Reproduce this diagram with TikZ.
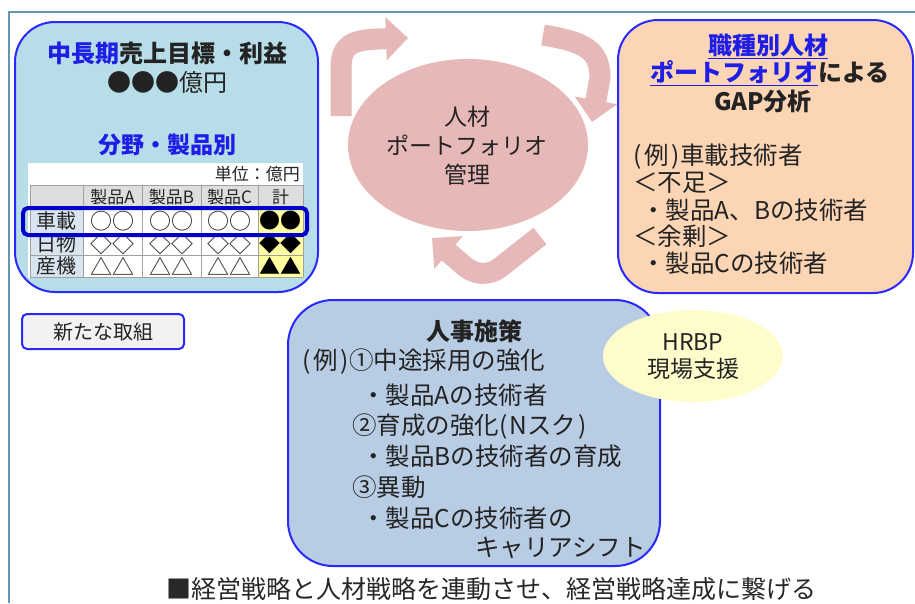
\documentclass[tikz,border=0pt]{standalone}
\usepackage{fontspec}
\setmainfont{Noto Sans CJK JP}
\usetikzlibrary{arrows.meta,shapes.geometric}
\definecolor{frameC}{RGB}{100,150,180}
\definecolor{edgeB}{RGB}{40,40,255}
\definecolor{lbFill}{RGB}{183,222,232}
\definecolor{peachF}{RGB}{252,213,181}
\definecolor{stFill}{RGB}{184,204,228}
\definecolor{pinkC}{RGB}{230,184,183}
\definecolor{yelE}{RGB}{255,252,204}
\definecolor{hdrG}{RGB}{222,222,222}
\definecolor{rowL}{RGB}{216,228,240}
\definecolor{yelC}{RGB}{255,255,160}
\definecolor{txtC}{RGB}{35,35,35}
\definecolor{titleB}{RGB}{30,30,230}
\definecolor{hiB}{RGB}{0,0,200}
\definecolor{gridG}{RGB}{160,160,160}
\definecolor{btnF}{RGB}{242,242,242}
\newcommand{\fsz}[1]{\fontsize{#1}{#1}\selectfont}
\newcommand{\rei}{(\hspace{3pt}例\hspace{3pt})}
\tikzset{
  bigbox/.style={draw=edgeB, line width=2pt, rounded corners=40pt},
  txt/.style={inner sep=0pt, text=txtC},
  lt/.style={txt, anchor=west, font=\fsz{24.5}},
  cell/.style={inner sep=0pt, text=txtC},
  cyc/.style={draw=pinkC, line width=21pt, -{Triangle[length=22pt,width=42pt]}},
}
\begin{document}
\begin{tikzpicture}[x=1pt,y=-1pt]
\useasboundingbox (0,0) rectangle (915,603);
\fill[white] (0,0) rectangle (915,603);
% frame
\draw[frameC, line width=2pt] (9,603) -- (9,12) -- (915,12);

% left box
\node[bigbox, fill=lbFill, minimum width=303pt, minimum height=270pt] (lbox) at (166.5,157) {};
\node[txt, font=\bfseries\fsz{24}] (lt1) at (167,53) {\textcolor{titleB}{中長期}売上目標・利益};
\node[txt, font=\fsz{24}] (lt2) at (167,82) {●●●億円};
\node[txt, font=\bfseries\fsz{23}, text=titleB] (lt3) at (167,145) {分野・製品別};
% table
\fill[white] (28,163) rectangle (303,278);
\node[txt, anchor=east, font=\fsz{17}] (unit) at (300,174) {単位：億円};
\fill[hdrG] (30,185) rectangle (303,208);
\fill[rowL] (30,208) rectangle (83,277);
\fill[yelC] (258,208) rectangle (303,277);
\foreach \x in {30,83,142,201,258,303} \draw[gridG, line width=0.8pt] (\x,185) -- (\x,277);
\foreach \y in {185,208,233,255,277} \draw[gridG, line width=0.8pt] (30,\y) -- (303,\y);
\node[cell, font=\fsz{17}] (hA) at (112.5,197) {製品A};
\node[cell, font=\fsz{17}] (hB) at (171.5,197) {製品B};
\node[cell, font=\fsz{17}] (hC) at (229.5,197) {製品C};
\node[cell, font=\fsz{17}] (hT) at (280.5,197) {計};
\node[cell, font=\fsz{20}] (r1) at (56.5,221) {車載};
\node[cell, font=\fsz{20}] (r2) at (56.5,244) {日物};
\node[cell, font=\fsz{20}] (r3) at (56.5,266) {産機};
\foreach \cx/\nm in {112.5/A,171.5/B,229.5/C} {
  \node[cell, font=\fsz{22}] (o\nm) at (\cx,221) {○○};
  \node[cell, font=\fsz{22}] (d\nm) at (\cx,244) {◇◇};
  \node[cell, font=\fsz{22}] (t\nm) at (\cx,266) {△△};
}
\node[cell, font=\fsz{21}, text=black] (oT) at (280.5,221) {●●};
\node[cell, font=\fsz{21}, text=black] (dT) at (280.5,244) {◆◆};
\node[cell, font=\fsz{21}, text=black] (tT) at (280.5,266) {▲▲};
\draw[hiB, line width=4pt, rounded corners=5pt] (23,208) rectangle (307,235);

% right box
\node[bigbox, fill=peachF, minimum width=295pt, minimum height=273pt] (rbox) at (765.5,156.5) {};
\node[txt, font=\bfseries\fsz{24}, text=titleB] (rt1) at (768,46) {\underline{職種別人材}};
\node[txt, font=\bfseries\fsz{24}] (rt2) at (770,73) {\textcolor{titleB}{\underline{ポートフォリオ}}による};
\node[txt, font=\bfseries\fsz{24}] (rt3) at (763,101) {GAP分析};
\node[lt] (rl1) at (633,157) {\rei 車載技術者};
\node[lt] (rl2) at (633,183) {＜不足＞};
\node[lt] (rl3) at (641,210) {・製品A、Bの技術者};
\node[lt] (rl4) at (633,236) {＜余剰＞};
\node[lt] (rl5) at (641,263) {・製品Cの技術者};

% center ellipse
\node[ellipse, fill=pinkC, minimum width=240pt, minimum height=172pt, inner sep=0pt] (pf) at (468,145) {};
\node[txt, font=\fsz{23}, align=center] (pft) at (467,146) {人材\\[6pt]ポートフォリオ\\[6pt]管理};

% cycle arrows
\coordinate (a1s) at (341,116);
\coordinate (a1e) at (408,38);
\draw[cyc] (a1s) -- (341,68) .. controls (341,45) and (352,40) .. (378,39) -- (a1e);
\coordinate (a2s) at (543,35);
\coordinate (a2e) at (592,122);
\draw[cyc] (a2s) .. controls (585,42) and (600,50) .. (600,78) -- (a2e);
\coordinate (a3s) at (540,236);
\coordinate (a3e) at (432,238);
\draw[cyc] (a3s) -- (502,266) .. controls (489,277) and (474,275) .. (463,265) -- (a3e);

% button
\node[draw=edgeB, line width=2pt, fill=btnF, rounded corners=5pt, minimum width=162pt, minimum height=35pt, inner sep=0pt] (btn) at (103,331.5) {};
\node[txt, font=\fsz{20}] (btnt) at (103,332) {新たな取組};

% middle box
\node[bigbox, fill=stFill, rounded corners=45pt, minimum width=372pt, minimum height=266pt] (mbox) at (474,433) {};
\node[txt, font=\bfseries\fsz{24}] (mt) at (474,331) {人事施策};
\node[lt] (m1) at (302,362) {\rei ①中途採用の強化};
\node[lt] (m2) at (361,395) {・製品Aの技術者};
\node[lt] (m3) at (352,427) {②育成の強化(\hspace{2pt}Nスク\hspace{2pt})};
\node[lt] (m4) at (361,456) {・製品Bの技術者の育成};
\node[lt] (m5) at (352,487) {③異動};
\node[lt] (m6) at (361,518) {・製品Cの技術者の};
\node[lt] (m7) at (475,548) {キャリアシフト};

% HRBP
\node[ellipse, fill=yelE, minimum width=180pt, minimum height=92pt, inner sep=0pt] (hrbp) at (693,356) {};
\node[txt, font=\fsz{23}, align=center] (hrbpt) at (693,357) {HRBP\\[4pt]現場支援};

% bottom text
\node[txt, font=\fsz{25}, text={rgb,255:red,40;green,40;blue,40}] (foot) at (491,589) {■経営戦略と人材戦略を連動させ、経営戦略達成に繋げる};
\end{tikzpicture}
\end{document}
